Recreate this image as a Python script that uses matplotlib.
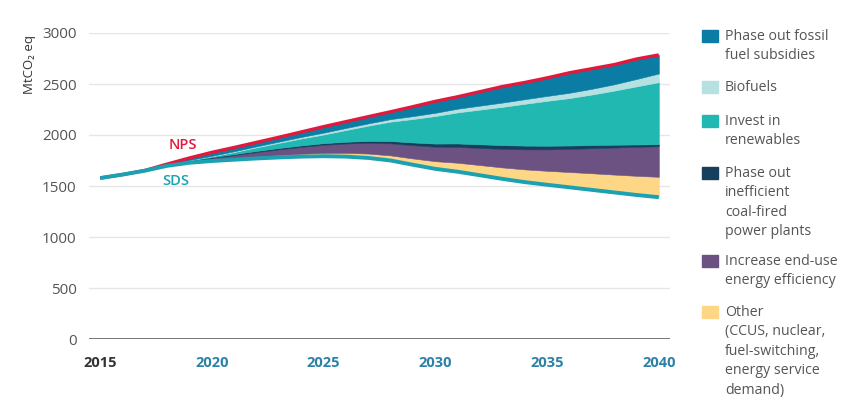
import numpy as np
import matplotlib
matplotlib.use('Agg')
import matplotlib.pyplot as plt
from matplotlib.patches import Rectangle

plt.rcParams['font.family'] = ['Open Sans', 'DejaVu Sans']

# values (MtCO2 eq)
years = np.arange(2015, 2041)
sds = [1578, 1612, 1650, 1698, 1728, 1745, 1758, 1770, 1780, 1788, 1792, 1788, 1775,
       1750, 1708, 1668, 1640, 1605, 1570, 1538, 1512, 1487, 1462, 1437, 1412, 1390]
other = [0, 0, 0, 2, 5, 10, 15, 20, 24, 28, 32, 37, 43,
         50, 62, 75, 88, 100, 112, 125, 137, 150, 163, 175, 188, 200]
efficiency = [0, 0, 0, 5, 12, 20, 30, 42, 55, 67, 80, 92, 105,
              118, 130, 142, 155, 168, 182, 196, 210, 226, 245, 265, 283, 300]
coal = [0, 0, 0, 2, 5, 8, 10, 12, 14, 15, 16, 17, 19,
        23, 27, 31, 34, 36, 37, 37, 36, 34, 32, 28, 24, 20]
renewables = [0, 0, 0, 0, 3, 8, 20, 35, 50, 68, 85, 115, 150,
              190, 230, 270, 305, 340, 375, 410, 440, 465, 495, 530, 570, 608]
biofuels = [0, 0, 0, 0, 2, 5, 8, 10, 12, 15, 18, 20, 22,
            25, 28, 32, 36, 39, 42, 45, 48, 52, 56, 62, 72, 85]
subsidies = [0, 0, 2, 8, 20, 34, 37, 39, 43, 49, 59, 62, 66,
             72, 93, 112, 117, 137, 157, 164, 177, 196, 197, 193, 196, 182]

layers = [other, efficiency, coal, renewables, biofuels, subsidies]
layer_colors = ['#fdd785', '#6c5282', '#163f5e', '#22b8b2', '#b5e1e0', '#0b7ca3']
legend_labels = [
    'Phase out fossil\nfuel subsidies',
    'Biofuels',
    'Invest in\nrenewables',
    'Phase out\ninefficient\ncoal-fired\npower plants',
    'Increase end-use\nenergy efficiency',
    'Other\n(CCUS, nuclear,\nfuel-switching,\nenergy service\ndemand)',
]
nps = np.sum([sds] + layers, axis=0)

xtick_years = [2015, 2020, 2025, 2030, 2035, 2040]
yticks = [0, 500, 1000, 1500, 2000, 2500, 3000]

red = '#e0193f'
teal_line = '#1aa2b2'

fig = plt.figure(figsize=(8.56, 4.11), dpi=100)
W, H = 856, 411
ax = fig.add_axes([89 / W, 1 - 339 / H, (670 - 89) / W, (339 - 33) / H])

ax.stackplot(years, sds, *layers, colors=['none'] + layer_colors,
             edgecolor='face', linewidth=0.4, zorder=2)
ax.plot(years, nps, color=red, lw=2.4, solid_capstyle='butt', zorder=3)
ax.plot(years, sds, color=teal_line, lw=2.8, solid_capstyle='butt', zorder=4)

ax.text(2018.7, 1900, 'NPS', color=red, fontsize=10.5, fontweight='semibold',
        ha='center', va='center')
ax.text(2018.4, 1550, 'SDS', color=teal_line, fontsize=10.5, fontweight='semibold',
        ha='center', va='center')

ax.set_xlim(2014.5, 2040.5)
ax.set_ylim(0, 3000)
ax.set_yticks(yticks)
ax.set_yticklabels([str(v) for v in yticks], color='#555555', fontsize=11)
ax.set_xticks(xtick_years)
ax.set_xticklabels([str(v) for v in xtick_years], fontsize=10.5, fontweight='bold')
for i, lbl in enumerate(ax.get_xticklabels()):
    lbl.set_color('#333333' if i == 0 else '#2a82a8')
ax.tick_params(axis='both', length=0)
ax.tick_params(axis='y', pad=9)
ax.tick_params(axis='x', pad=12)
for s in ax.spines.values():
    s.set_visible(False)
ax.grid(axis='y', color='#e6e6e6', lw=1, zorder=0)
ax.axhline(0, color='#555555', lw=1.1, zorder=1)
ax.set_axisbelow(True)

fig.text(30 / W, 1 - 65 / H, 'MtCO₂ eq', rotation=90, ha='center', va='center',
         fontsize=9.5, color='#333333')

# legend on the right
first_line_y = [36, 87, 121, 173, 261, 312]
for lab, col, yc in zip(legend_labels, layer_colors[::-1], first_line_y):
    fig.patches.append(Rectangle((702 / W, 1 - (yc + 6) / H), 16 / W, 12 / H,
                                 transform=fig.transFigure, color=col))
    fig.text(725 / W, 1 - (yc - 7) / H, lab, ha='left', va='top', fontsize=10.2,
             color='#555555', linespacing=1.4)

fig.savefig('out.png', dpi=100)
